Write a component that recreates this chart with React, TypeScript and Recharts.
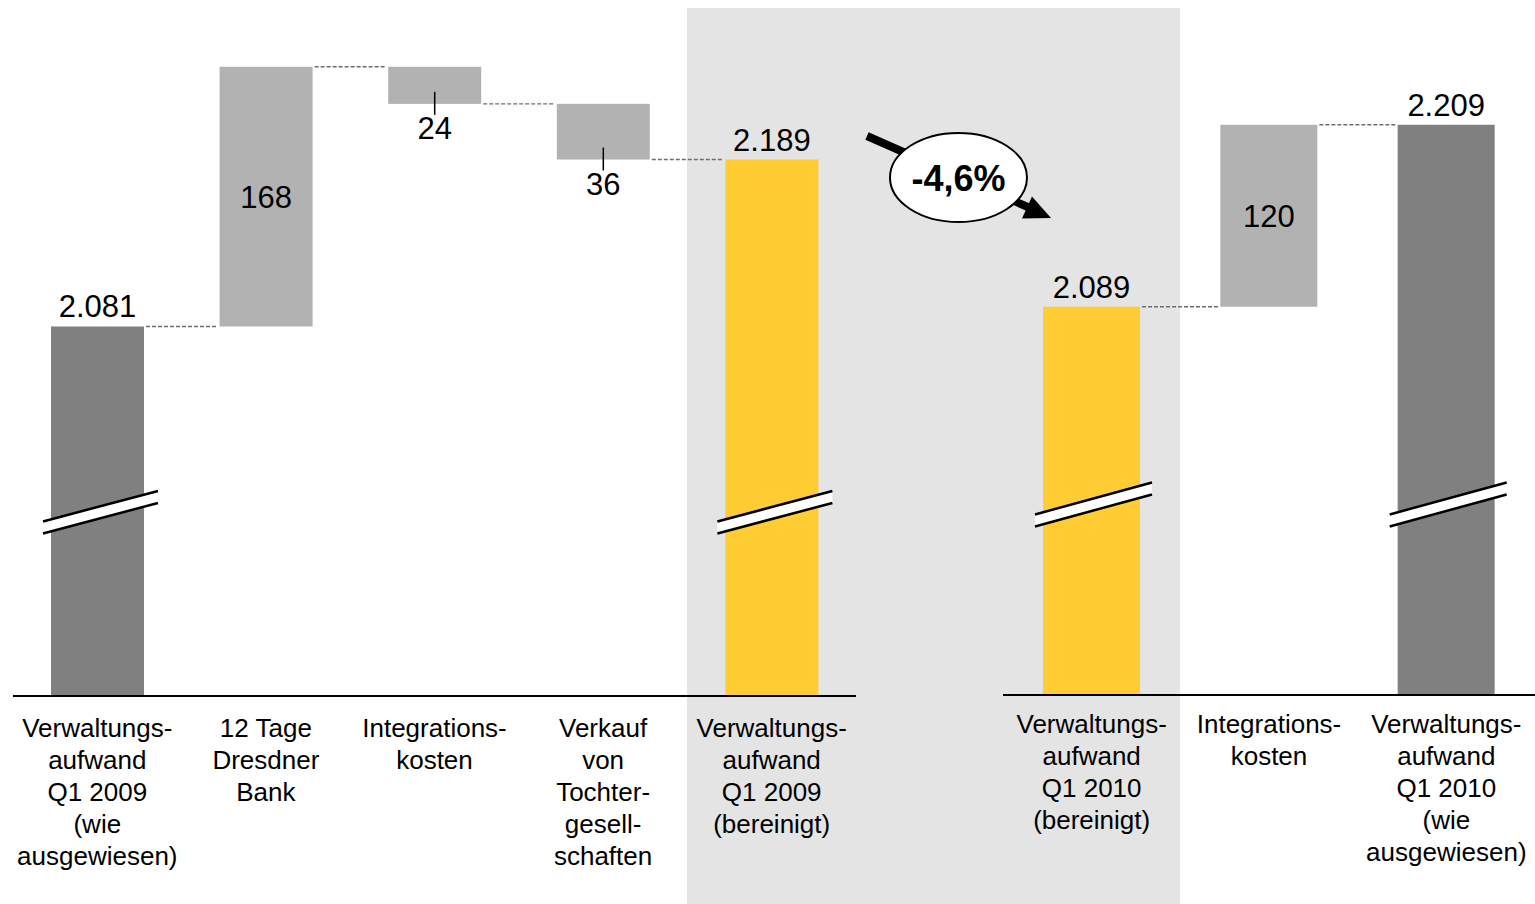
import React from 'react';
import { ComposedChart, Bar, XAxis, YAxis } from 'recharts';

// ---------- data ----------
const leftCategories = [
  'Verwaltungs-\naufwand\nQ1 2009\n(wie\nausgewiesen)',
  '12 Tage\nDresdner\nBank',
  'Integrations-\nkosten',
  'Verkauf\nvon\nTochter-\ngesell-\nschaften',
  'Verwaltungs-\naufwand\nQ1 2009\n(bereinigt)',
];
const leftValues = [2081, 168, -24, -36, 2189];
const leftKinds = ['total', 'delta', 'delta', 'delta', 'total'];
const leftValueLabels = ['2.081', '168', '24', '36', '2.189'];
const leftColors = ['#808080', '#B2B2B2', '#B2B2B2', '#B2B2B2', '#FFCC33'];

const rightCategories = [
  'Verwaltungs-\naufwand\nQ1 2010\n(bereinigt)',
  'Integrations-\nkosten',
  'Verwaltungs-\naufwand\nQ1 2010\n(wie\nausgewiesen)',
];
const rightValues = [2089, 120, 2209];
const rightKinds = ['total', 'delta', 'total'];
const rightValueLabels = ['2.089', '120', '2.209'];
const rightColors = ['#FFCC33', '#B2B2B2', '#808080'];

const changeLabel = '-4,6%';

// ---------- helpers ----------
const FONT = 'Liberation Sans, Arial, Helvetica, sans-serif';

type Row = {
  name: string;
  range: number | [number, number];
  kind: string;
  dir: 'up' | 'down';
  color: string;
  label: string;
  last: boolean;
};

function buildRows(cats: string[], values: number[], kinds: string[], colors: string[], labels: string[]): Row[] {
  let running = 0;
  return cats.map((name, i) => {
    const v = values[i];
    let range: number | [number, number];
    if (kinds[i] === 'total') {
      running = v;
      range = v;
    } else {
      const start = running;
      running = start + v;
      range = [Math.min(start, running), Math.max(start, running)];
    }
    return {
      name,
      range,
      kind: kinds[i],
      dir: v >= 0 ? 'up' : 'down',
      color: colors[i],
      label: labels[i],
      last: i === cats.length - 1,
    };
  });
}

const leftRows = buildRows(leftCategories, leftValues, leftKinds, leftColors, leftValueLabels);
const rightRows = buildRows(rightCategories, rightValues, rightKinds, rightColors, rightValueLabels);

type ShapeCfg = { gap: number; breakOffset: number; slope: number; extL: number; extR: number };

const makeShape = (cfg: ShapeCfg) => (props: any) => {
  const { x, y, width, height, payload } = props;
  const top = Math.min(y, y + height);
  const bottom = Math.max(y, y + height);
  const cx = x + width / 2;
  const p: Row = payload;
  const els: any[] = [];
  els.push(<rect key="r" x={x} y={top} width={width} height={bottom - top} fill={p.color} />);
  if (!p.last) {
    const level = p.kind === 'total' || p.dir === 'up' ? top : bottom;
    els.push(
      <line key="c" x1={x + width + 2} x2={x + width + cfg.gap - 2} y1={level} y2={level}
        stroke="#6E6E6E" strokeWidth={1.3} strokeDasharray="4 2" />
    );
  }
  if (p.kind === 'total') {
    els.push(
      <text key="t" x={cx} y={top - 9} textAnchor="middle" fontSize={31} fontFamily={FONT} fill="#000">{p.label}</text>
    );
    const cy = bottom - cfg.breakOffset;
    const x0 = x - cfg.extL;
    const x1 = x + width + cfg.extR;
    const yAt = (xx: number) => cy - cfg.slope * (xx - cx);
    const g = 6;
    els.push(
      <g key="b">
        <polygon
          points={`${x0},${yAt(x0) - g} ${x1},${yAt(x1) - g} ${x1},${yAt(x1) + g} ${x0},${yAt(x0) + g}`}
          fill="#FFFFFF" />
        <line x1={x0} y1={yAt(x0) - g} x2={x1} y2={yAt(x1) - g} stroke="#000" strokeWidth={2.5} />
        <line x1={x0} y1={yAt(x0) + g} x2={x1} y2={yAt(x1) + g} stroke="#000" strokeWidth={2.5} />
      </g>
    );
  } else if (p.dir === 'up') {
    els.push(
      <text key="t" x={cx} y={(top + bottom) / 2} dy="0.36em" textAnchor="middle" fontSize={31} fontFamily={FONT} fill="#000">{p.label}</text>
    );
  } else {
    els.push(<line key="l" x1={cx} x2={cx} y1={bottom - 12} y2={bottom + 11} stroke="#000" strokeWidth={1.5} />);
    els.push(
      <text key="t" x={cx} y={bottom + 35} textAnchor="middle" fontSize={31} fontFamily={FONT} fill="#000">{p.label}</text>
    );
  }
  return <g>{els}</g>;
};

const CategoryTick = (props: any) => {
  const { x, y, payload, offset } = props;
  const lines = String(payload.value).split('\n');
  return (
    <text x={x} y={y + offset} textAnchor="middle" fontSize={26} fontFamily={FONT} fill="#000">
      {lines.map((l, i) => (
        <tspan key={i} x={x} dy={i === 0 ? 0 : 32}>{l}</tspan>
      ))}
    </text>
  );
};

// ---------- layout ----------
const LEFT_W = 870;
const LEFT_MARGIN = { top: 8, right: 14, bottom: 28, left: 13 };
const LEFT_DOMAIN: [number, number] = [1842, 2287];
const LEFT_BAR = 93;
const leftStep = (LEFT_W - LEFT_MARGIN.left - LEFT_MARGIN.right) / leftCategories.length;

const RIGHT_X = 990;
const RIGHT_W = 545;
const RIGHT_MARGIN = { top: 8, right: 0, bottom: 29, left: 13 };
const RIGHT_DOMAIN: [number, number] = [1833, 2286];
const RIGHT_BAR = 97;
const rightStep = (RIGHT_W - RIGHT_MARGIN.left - RIGHT_MARGIN.right) / rightCategories.length;

const H = 904;
const XAXIS_H = 180;

const leftShape = makeShape({ gap: leftStep - LEFT_BAR, breakOffset: 183, slope: 0.265, extL: 8, extR: 14 });
const rightShape = makeShape({ gap: rightStep - RIGHT_BAR, breakOffset: 190, slope: 0.274, extL: 8, extR: 12 });

export default function App() {
  return (
    <div style={{ position: 'absolute', left: 0, top: 0, width: 1535, height: H, background: '#FFFFFF', overflow: 'hidden', fontFamily: FONT }}>
      <div style={{ position: 'absolute', left: 687, top: 8, width: 493, height: H - 8, background: '#E4E4E4' }} />
      <div style={{ position: 'absolute', left: 0, top: 0 }}>
        <ComposedChart width={LEFT_W} height={H} data={leftRows} margin={LEFT_MARGIN}>
          <XAxis dataKey="name" type="category" interval={0} height={XAXIS_H}
            tickLine={false} tickSize={0} tickMargin={0}
            axisLine={{ stroke: '#000', strokeWidth: 2 }}
            tick={(p: any) => <CategoryTick {...p} offset={41} />} />
          <YAxis type="number" domain={LEFT_DOMAIN} hide />
          <Bar dataKey="range" barSize={LEFT_BAR} isAnimationActive={false} shape={leftShape} />
        </ComposedChart>
      </div>
      <div style={{ position: 'absolute', left: RIGHT_X, top: 0 }}>
        <ComposedChart width={RIGHT_W} height={H} data={rightRows} margin={RIGHT_MARGIN}>
          <XAxis dataKey="name" type="category" interval={0} height={XAXIS_H}
            tickLine={false} tickSize={0} tickMargin={0}
            axisLine={{ stroke: '#000', strokeWidth: 2 }}
            tick={(p: any) => <CategoryTick {...p} offset={38} />} />
          <YAxis type="number" domain={RIGHT_DOMAIN} hide />
          <Bar dataKey="range" barSize={RIGHT_BAR} isAnimationActive={false} shape={rightShape} />
        </ComposedChart>
      </div>
      <svg width={1535} height={H} style={{ position: 'absolute', left: 0, top: 0, pointerEvents: 'none' }}>
        <line x1={867} y1={136} x2={1030} y2={208} stroke="#000" strokeWidth={8} />
        <polygon points="1032,196.5 1051,218 1022,218.5" fill="#000" />
        <ellipse cx={958.5} cy={177.5} rx={68.5} ry={44.5} fill="#FFFFFF" stroke="#000" strokeWidth={2} />
        <text x={958.5} y={178} dy="0.36em" textAnchor="middle" fontSize={36} fontWeight="bold" fontFamily={FONT} fill="#000">{changeLabel}</text>
      </svg>
    </div>
  );
}
